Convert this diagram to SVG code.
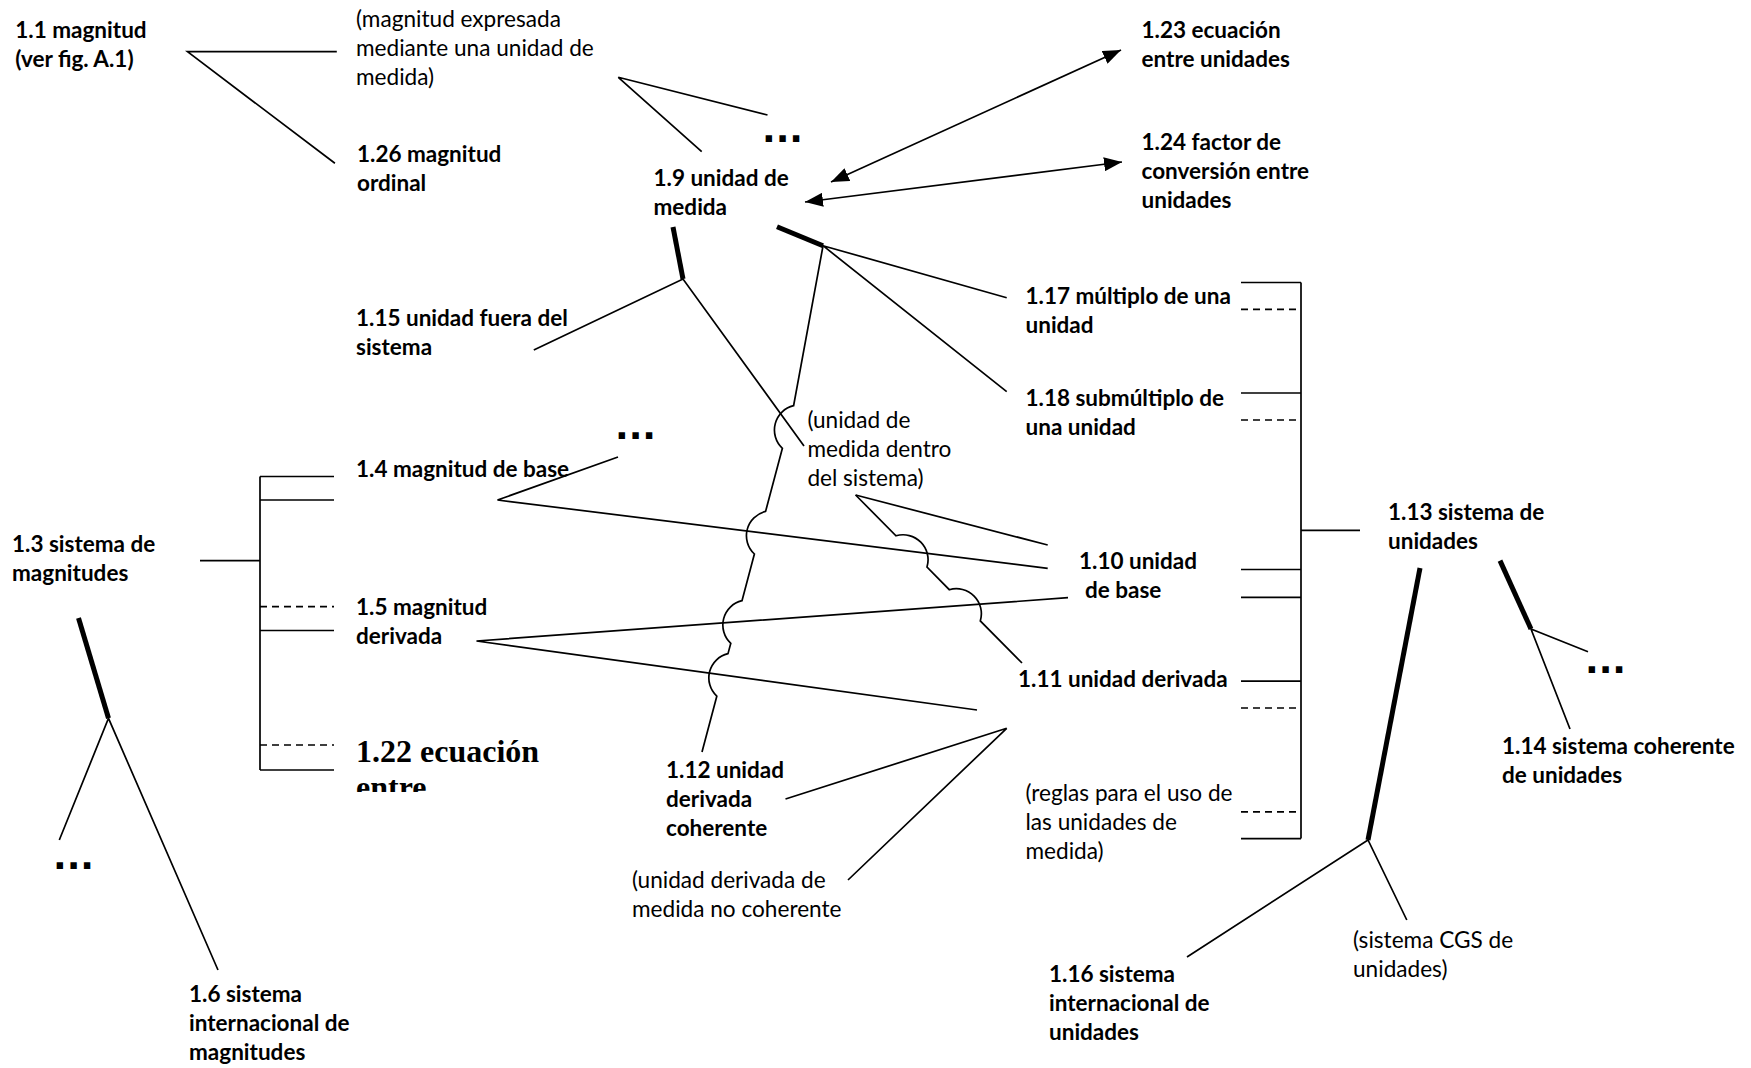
<svg xmlns="http://www.w3.org/2000/svg" width="1751" height="1068" viewBox="0 0 1751 1068">
  <defs>
    <style>
      .b { font-family: Lato, "Liberation Sans", sans-serif; font-weight: bold; font-size: 22.5px; fill: #000; }
      .r { font-family: Lato, "Liberation Sans", sans-serif; font-weight: normal; font-size: 22.6px; fill: #000; }
      .tnr { font-family: "Liberation Serif", serif; font-weight: bold; font-size: 32px; fill: #000; }
      .dots { font-family: "DejaVu Sans", sans-serif; font-weight: bold; font-size: 36px; fill: #000; }
      .ln { stroke: #000; stroke-width: 1.7; fill: none; }
      .thick { stroke: #000; stroke-width: 5; fill: none; }
      .dash { stroke: #000; stroke-width: 1.7; stroke-dasharray: 7 5; fill: none; }
    </style>
    <marker id="ah" viewBox="0 0 18 14" refX="18" refY="7" markerWidth="18" markerHeight="14" markerUnits="userSpaceOnUse" orient="auto-start-reverse">
      <path d="M0,0 L18,7 L0,14 z" fill="#000"/>
    </marker>
    <clipPath id="cut122">
      <rect x="340" y="720" width="200" height="72"/>
    </clipPath>
  </defs>

  <rect width="1751" height="1068" fill="#fff"/>

  <!-- connectors -->
  <g id="connectors">
    <!-- 1.1 magnitud -->
    <path class="ln" d="M336.8,51.7 H187.5 L334.9,163.3"/>
    <!-- (magnitud expresada ...) -->
    <path class="ln" d="M767.5,115 L618.3,77.3 L701.7,151.7"/>
    <!-- double arrows from 1.9 -->
    <line class="ln" x1="831" y1="182" x2="1121" y2="50" marker-start="url(#ah)" marker-end="url(#ah)"/>
    <line class="ln" x1="805" y1="202" x2="1122" y2="162" marker-start="url(#ah)" marker-end="url(#ah)"/>
    <!-- 1.9 partitive trunks -->
    <line class="thick" x1="673" y1="227" x2="683" y2="279"/>
    <path class="ln" d="M533.8,350 L683,279 L804,446"/>
    <line class="thick" x1="777" y1="226.7" x2="823" y2="245.7"/>
    <path class="ln" d="M1006.7,297.7 L823,245.7 L1006.7,391.7"/>
    <!-- line with jumps down to 1.12 -->
    <path class="ln" d="M823,246 L793.6,405.7 A25,25 0 0 0 782.4,448.3 L765.6,511.4 A25,25 0 0 0 754.4,554 L742,600.7 A25,25 0 0 0 730.8,643.3 L728,653.6 A25,25 0 0 0 716.8,696.2 L702,752"/>
    <!-- (unidad de medida dentro del sistema) -->
    <path class="ln" d="M1047.7,545 L855.6,495"/>
    <path class="ln" d="M855.6,495 L896,535.8 A25,25 0 0 1 927,567 L949.3,589.7 A25,25 0 0 1 980.3,620.9 L1022,663"/>
    <!-- 1.4 magnitud de base -->
    <path class="ln" d="M618,457 L497.5,500 L1047.7,568.3"/>
    <!-- 1.5 magnitud derivada -->
    <path class="ln" d="M1068,597.7 L476.5,641 L977,710"/>
    <!-- 1.12 / unidad derivada no coherente -->
    <path class="ln" d="M785.5,799 L1006.7,728.3 L848,880"/>
    <!-- 1.3 sistema de magnitudes bracket -->
    <line class="ln" x1="200" y1="560.6" x2="260" y2="560.6"/>
    <line class="ln" x1="260" y1="476.5" x2="260" y2="770"/>
    <line class="ln" x1="260" y1="476.5" x2="334" y2="476.5"/>
    <line class="ln" x1="260" y1="500" x2="334" y2="500"/>
    <line class="dash" x1="260" y1="606.7" x2="334" y2="606.7"/>
    <line class="ln" x1="260" y1="630.5" x2="334" y2="630.5"/>
    <line class="dash" x1="260" y1="745" x2="334" y2="745"/>
    <line class="ln" x1="260" y1="770" x2="334" y2="770"/>
    <!-- 1.3 partitive -->
    <line class="thick" x1="78.5" y1="618" x2="108.5" y2="718.3"/>
    <path class="ln" d="M59.3,840 L108.5,718.3 L218,970"/>
    <!-- 1.13 sistema de unidades bracket -->
    <line class="ln" x1="1301" y1="530.4" x2="1360" y2="530.4"/>
    <line class="ln" x1="1301" y1="282.5" x2="1301" y2="838.6"/>
    <line class="ln" x1="1241" y1="282.5" x2="1301" y2="282.5"/>
    <line class="dash" x1="1241" y1="309.3" x2="1301" y2="309.3"/>
    <line class="ln" x1="1241" y1="393" x2="1301" y2="393"/>
    <line class="dash" x1="1241" y1="420" x2="1301" y2="420"/>
    <line class="ln" x1="1241" y1="569.5" x2="1301" y2="569.5"/>
    <line class="ln" x1="1241" y1="597.4" x2="1301" y2="597.4"/>
    <line class="ln" x1="1241" y1="681.2" x2="1301" y2="681.2"/>
    <line class="dash" x1="1241" y1="708" x2="1301" y2="708"/>
    <line class="dash" x1="1241" y1="811.8" x2="1301" y2="811.8"/>
    <line class="ln" x1="1241" y1="838.6" x2="1301" y2="838.6"/>
    <!-- 1.13 partitive trunks -->
    <line class="thick" x1="1420" y1="568" x2="1368" y2="840"/>
    <path class="ln" d="M1187,957 L1368,840 L1406.8,920"/>
    <line class="thick" x1="1500" y1="560.6" x2="1531" y2="629"/>
    <path class="ln" d="M1588,651.8 L1531,629 L1570,729"/>
  </g>

  <!-- nodes -->
  <g id="n1_1"><text class="b" x="15.3" y="38.3">1.1 magnitud</text><text class="b" x="15.3" y="67.3">(ver fig. A.1)</text></g>
  <g id="n_expresada"><text class="r" x="356" y="27.1">(magnitud expresada</text><text class="r" x="356" y="56.1">mediante una unidad de</text><text class="r" x="356" y="85.1">medida)</text></g>
  <g id="n1_26"><text class="b" x="357" y="162.2">1.26 magnitud</text><text class="b" x="357" y="191.2">ordinal</text></g>
  <g id="n1_9"><text class="b" x="653.5" y="185.7">1.9 unidad de</text><text class="b" x="653.5" y="214.7">medida</text></g>
  <g id="n1_23"><text class="b" x="1141.5" y="38.3">1.23 ecuación</text><text class="b" x="1141.5" y="67.3">entre unidades</text></g>
  <g id="n1_24"><text class="b" x="1141.5" y="150">1.24 factor de</text><text class="b" x="1141.5" y="179">conversión entre</text><text class="b" x="1141.5" y="208">unidades</text></g>
  <g id="n1_15"><text class="b" x="356" y="326.4">1.15 unidad fuera del</text><text class="b" x="356" y="355.4">sistema</text></g>
  <g id="n1_17"><text class="b" x="1025.5" y="304">1.17 múltiplo de una</text><text class="b" x="1025.5" y="333">unidad</text></g>
  <g id="n1_18"><text class="b" x="1025.5" y="405.7">1.18 submúltiplo de</text><text class="b" x="1025.5" y="434.7">una unidad</text></g>
  <g id="n_dentro"><text class="r" x="807.4" y="428">(unidad de</text><text class="r" x="807.4" y="457">medida dentro</text><text class="r" x="807.4" y="486">del sistema)</text></g>
  <g id="n1_4"><text class="b" x="356" y="477">1.4 magnitud de base</text></g>
  <g id="n1_3"><text class="b" x="12" y="552">1.3 sistema de</text><text class="b" x="12" y="581">magnitudes</text></g>
  <g id="n1_5"><text class="b" x="356" y="614.5">1.5 magnitud</text><text class="b" x="356" y="643.5">derivada</text></g>
  <g id="n1_22" clip-path="url(#cut122)"><text class="tnr" x="356" y="762">1.22 ecuación</text><text class="tnr" x="356" y="798">entre</text></g>
  <g id="n1_10"><text class="b" x="1079" y="568.7">1.10 unidad</text><text class="b" x="1085" y="597.7">de base</text></g>
  <g id="n1_11"><text class="b" x="1018" y="687">1.11 unidad derivada</text></g>
  <g id="n1_13"><text class="b" x="1388" y="519.6">1.13 sistema de</text><text class="b" x="1388" y="548.6">unidades</text></g>
  <g id="n1_14"><text class="b" x="1502" y="754">1.14 sistema coherente</text><text class="b" x="1502" y="783">de unidades</text></g>
  <g id="n1_12"><text class="b" x="666" y="777.5">1.12 unidad</text><text class="b" x="666" y="806.5">derivada</text><text class="b" x="666" y="835.5">coherente</text></g>
  <g id="n_reglas"><text class="r" x="1025.5" y="801">(reglas para el uso de</text><text class="r" x="1025.5" y="830">las unidades de</text><text class="r" x="1025.5" y="859">medida)</text></g>
  <g id="n_nocoherente"><text class="r" x="632" y="888">(unidad derivada de</text><text class="r" x="632" y="917">medida no coherente</text></g>
  <g id="n1_6"><text class="b" x="189" y="1002">1.6 sistema</text><text class="b" x="189" y="1031">internacional de</text><text class="b" x="189" y="1060">magnitudes</text></g>
  <g id="n1_16"><text class="b" x="1049" y="982">1.16 sistema</text><text class="b" x="1049" y="1011">internacional de</text><text class="b" x="1049" y="1040">unidades</text></g>
  <g id="n_cgs"><text class="r" x="1353" y="948.4">(sistema CGS de</text><text class="r" x="1353" y="977.4">unidades)</text></g>

  <!-- open continuations -->
  <g id="more_1_9"><text class="dots" x="762" y="142">...</text></g>
  <g id="more_1_4"><text class="dots" x="615" y="439">...</text></g>
  <g id="more_1_3"><text class="dots" x="53" y="869">...</text></g>
  <g id="more_1_14"><text class="dots" x="1585" y="673">...</text></g>
</svg>
